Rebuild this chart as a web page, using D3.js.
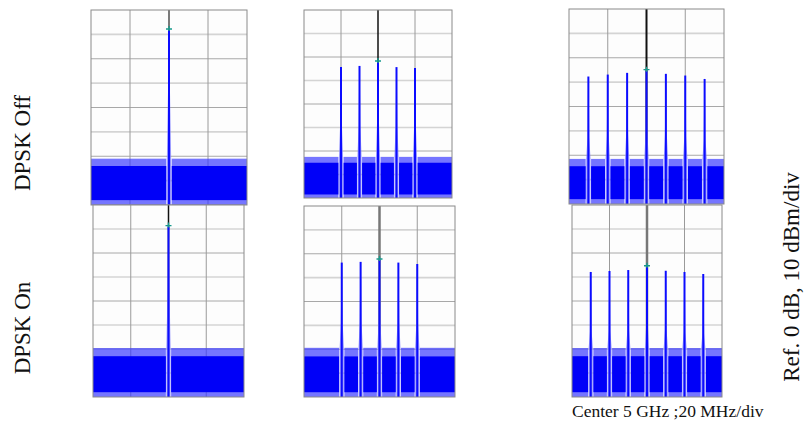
<!DOCTYPE html>
<html>
<head>
<meta charset="utf-8">
<script src="https://cdn.jsdelivr.net/npm/d3@7"></script>
<style>
  html, body { margin: 0; padding: 0; background: #ffffff; }
  svg { display: block; }
</style>
</head>
<body>
<svg id="chart" width="806" height="423"></svg>
<script>
// ---------- data ----------
const rowLabels = ["DPSK Off", "DPSK On"];
const xLabel = "Center 5 GHz ;20 MHz/div";
const yLabel = "Ref. 0 dB, 10 dBm/div";

// frequency offsets of the tones, MHz (per column)
const toneFreqs1 = [0];
const toneFreqs2 = [-20, -10, 0, 10, 20];
const toneFreqs3 = [-30, -20, -10, 0, 10, 20, 30];

// tone peak levels, dBm (per panel)
const peaksOff1 = [-8.2];
const peaksOff2 = [-24.3, -23.8, -22.1, -24.3, -24.7];
const peaksOff3 = [-27.7, -26.9, -26.2, -25.3, -26.6, -27.3, -28.7];
const peaksOn1 = [-9.0];
const peaksOn2 = [-23.7, -23.4, -22.6, -23.7, -24.3];
const peaksOn3 = [-27.9, -27.5, -27.1, -25.7, -27.4, -27.9, -28.75];

// noise floor: upper envelope, top of the dense part, bottom of the dense part, dBm (per panel)
const noiseTop = [-61.0, -62.5, -61.5, -59.6, -59.4, -59.6];
const noiseCore = [-64.0, -65.0, -64.5, -63.0, -63.0, -63.0];
const noiseLow = [-78.0, -78.5, -78.0, -78.0, -78.0, -78.0];

// axis settings: 4 divisions of 20 MHz, 8 divisions of 10 dB
const freqDomain = [-40, 40];
const levelDomain = [-80, 0];
const freqGrid = [-20, 0, 20];
const levelGrid = [-70, -60, -50, -40, -30, -20, -10];

// ---------- layout ----------
const panels = [
  { x0: 91,  x1: 247, y0: 10,  y1: 205, f: toneFreqs1, p: peaksOff1, n: 0, cl: "#7a7a7a", cw: 2 },
  { x0: 304, x1: 452, y0: 10,  y1: 198, f: toneFreqs2, p: peaksOff2, n: 1, cl: "#111", cw: 1.5 },
  { x0: 569, x1: 724, y0: 9,   y1: 204, f: toneFreqs3, p: peaksOff3, n: 2, cl: "#111", cw: 2 },
  { x0: 93,  x1: 244, y0: 205, y1: 397, f: toneFreqs1, p: peaksOn1, n: 3, cl: "#111", cw: 1.5 },
  { x0: 304, x1: 455, y0: 206, y1: 397, f: toneFreqs2, p: peaksOn2, n: 4, cl: "#777", cw: 2.5 },
  { x0: 572, x1: 722, y0: 205, y1: 397, f: toneFreqs3, p: peaksOn3, n: 5, cl: "#777", cw: 2.5 }
];

const svg = d3.select("#chart");

panels.forEach((P, i) => {
  const x = d3.scaleLinear().domain(freqDomain).range([P.x0, P.x1]);
  const y = d3.scaleLinear().domain(levelDomain).range([P.y1, P.y0]);
  const g = svg.append("g");
  const clipId = "clip" + i;
  svg.append("clipPath").attr("id", clipId)
    .append("rect").attr("x", P.x0).attr("y", P.y0)
    .attr("width", P.x1 - P.x0).attr("height", P.y1 - P.y0);

  g.append("rect").attr("x", P.x0).attr("y", P.y0)
    .attr("width", P.x1 - P.x0).attr("height", P.y1 - P.y0)
    .attr("fill", "#fdfdfd");

  // grid
  g.selectAll(".hg").data(levelGrid).join("line")
    .attr("x1", P.x0).attr("x2", P.x1)
    .attr("y1", d => y(d)).attr("y2", d => y(d))
    .attr("stroke", (d, k) => k % 2 ? "#a8a8a8" : "#d4d4d4")
    .attr("stroke-width", (d, k) => k % 2 ? 1 : 1.6);
  g.selectAll(".vg").data(freqGrid.filter(d => d !== 0)).join("line")
    .attr("x1", d => x(d)).attr("x2", d => x(d))
    .attr("y1", P.y0).attr("y2", P.y1)
    .attr("stroke", "#9a9a9a").attr("stroke-width", 1);

  // centre line
  g.append("line").attr("x1", x(0)).attr("x2", x(0))
    .attr("y1", P.y0).attr("y2", P.y1)
    .attr("stroke", P.cl).attr("stroke-width", P.cw);

  const plot = g.append("g").attr("clip-path", `url(#${clipId})`);

  // noise floor band, split by gaps around each tone
  const nt = noiseTop[P.n], nc = noiseCore[P.n], nl = noiseLow[P.n];
  const segs = [];
  let start = freqDomain[0];
  P.f.forEach(f => { segs.push([start, f - 1.4]); start = f + 1.4; });
  segs.push([start, freqDomain[1]]);

  plot.selectAll(".nOuter").data(segs).join("rect")
    .attr("x", d => x(d[0])).attr("width", d => x(d[1]) - x(d[0]))
    .attr("y", y(nt)).attr("height", y(levelDomain[0]) - y(nt))
    .attr("fill", "#3a3aff").attr("opacity", 0.7);
  plot.selectAll(".nCore").data(segs).join("rect")
    .attr("x", d => x(d[0])).attr("width", d => x(d[1]) - x(d[0]))
    .attr("y", y(nc)).attr("height", y(nl) - y(nc))
    .attr("fill", "#0000f8");

  // tones
  const tones = P.f.map((f, k) => ({ f, p: P.p[k] }));
  plot.selectAll(".tbase").data(tones).join("path")
    .attr("d", d => d3.line()([
      [x(d.f - 1.1), y(nt)], [x(d.f - 0.5), y(d.p - 25)], [x(d.f - 0.2), y(d.p - 5)], [x(d.f), y(d.p)],
      [x(d.f + 0.2), y(d.p - 5)], [x(d.f + 0.5), y(d.p - 25)], [x(d.f + 1.1), y(nt)],
      [x(d.f + 1.1), y(-80)], [x(d.f - 1.1), y(-80)]
    ]) + "Z")
    .attr("fill", "#7c7cff").attr("opacity", 0.8);
  plot.selectAll(".tline").data(tones).join("line")
    .attr("x1", d => x(d.f)).attr("x2", d => x(d.f))
    .attr("y1", y(-80)).attr("y2", d => y(d.p))
    .attr("stroke", "#0c0cff").attr("stroke-width", 2);

  // marker at centre tone
  const c = tones.find(t => t.f === 0);
  const mx = x(0), my = y(c.p) - 1;
  g.append("path").attr("d", `M${mx - 3},${my}H${mx + 3}M${mx},${my - 3}V${my + 2}`)
    .attr("stroke", "#169a8c").attr("stroke-width", 1.4).attr("fill", "none");

  // frame
  g.append("rect").attr("x", P.x0).attr("y", P.y0)
    .attr("width", P.x1 - P.x0).attr("height", P.y1 - P.y0)
    .attr("fill", "none").attr("stroke", "#8a8a8a").attr("stroke-width", 1);
});

// ---------- labels ----------
const font = "'Liberation Serif', 'Times New Roman', serif";
svg.append("text").attr("transform", "translate(30,143) rotate(-90)")
  .attr("text-anchor", "middle").attr("font-family", font).attr("font-size", 23)
  .attr("fill", "#111").text(rowLabels[0]);
svg.append("text").attr("transform", "translate(30,328) rotate(-90)")
  .attr("text-anchor", "middle").attr("font-family", font).attr("font-size", 23)
  .attr("fill", "#111").text(rowLabels[1]);
svg.append("text").attr("transform", "translate(799,277) rotate(-90)")
  .attr("text-anchor", "middle").attr("font-family", font).attr("font-size", 23)
  .attr("fill", "#111").text(yLabel);
svg.append("text").attr("x", 572).attr("y", 417)
  .attr("font-family", font).attr("font-size", 17.5)
  .attr("fill", "#111").text(xLabel);
</script>
</body>
</html>
